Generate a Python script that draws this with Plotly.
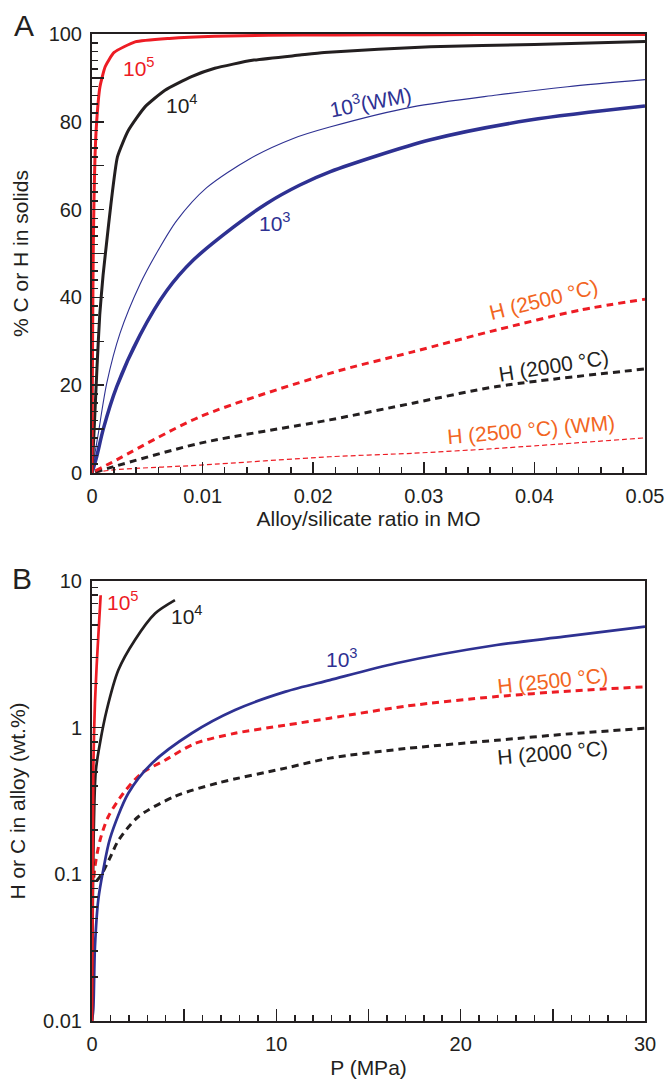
import plotly.graph_objects as go

# ---------------- Panel A data: % C or H in solids vs alloy/silicate ratio ----------------
a_c1e5_x = [0, 0.00003, 0.00008, 0.00012, 0.00018, 0.00027, 0.00042, 0.00072, 0.0012, 0.002,
            0.0039, 0.007, 0.0111, 0.016, 0.022, 0.03, 0.04, 0.05]
a_c1e5_y = [0, 20, 40, 52, 62, 72, 80, 88, 92.6, 95.8, 98.2, 99.0, 99.5, 99.7, 99.8, 99.85, 99.9, 99.9]

a_c1e4_x = [0, 0.0001, 0.00025, 0.00045, 0.0007, 0.001, 0.0013, 0.0017, 0.0023,
            0.00328, 0.00479, 0.0066, 0.009, 0.0111, 0.0145, 0.0188, 0.021, 0.0306, 0.04, 0.05]
a_c1e4_y = [0, 5, 13, 24, 36, 45, 52, 61, 72, 78, 83.4, 87.2, 90.3, 92.2, 94.0, 95.2,
            95.8, 97.1, 97.6, 98.3]

a_c1e3wm_x = [0, 0.0002, 0.00057, 0.00133, 0.00253, 0.00434, 0.006, 0.00766, 0.01037, 0.01428,
              0.0182, 0.0215, 0.029, 0.0366, 0.043, 0.05]
a_c1e3wm_y = [0, 3.5, 9.0, 20.4, 31.8, 43.0, 50.8, 57.5, 65.0, 71.6, 76.2, 78.8, 83.4, 86.1, 88.0, 89.6]

a_c1e3_x = [0, 0.00042, 0.00102, 0.00223, 0.00434, 0.00675, 0.00916, 0.01278, 0.0158, 0.0188,
            0.0215, 0.0306, 0.0396, 0.05]
a_c1e3_y = [0, 3.7, 10.0, 19.6, 31.4, 41.5, 48.5, 56.0, 61.4, 65.6, 68.6, 75.9, 80.4, 83.6]

a_h2500_x = [0.0003, 0.00163, 0.00976, 0.0215, 0.029, 0.0366, 0.0441, 0.05]
a_h2500_y = [0.5, 2.2, 12.8, 22.7, 27.6, 32.6, 37.1, 39.6]

a_h2000_x = [0.0003, 0.0019, 0.0098, 0.0215, 0.029, 0.0366, 0.05]
a_h2000_y = [0.2, 1.4, 6.8, 12.1, 15.9, 19.7, 23.7]

a_h2500wm_x = [0.0003, 0.0019, 0.0098, 0.0215, 0.029, 0.0366, 0.05]
a_h2500wm_y = [0.1, 0.7, 1.8, 3.7, 4.5, 5.6, 8.0]

# ---------------- Panel B data: H or C in alloy (wt.%) vs P (MPa) ----------------
b_c1e5_x = [0, 0.03, 0.05, 0.07, 0.11, 0.16, 0.25, 0.34, 0.47]
b_c1e5_y = [0.01, 0.05, 0.2, 0.51, 0.9, 1.47, 2.6, 4.17, 8.0]

b_c1e4_x = [0, 0.03, 0.07, 0.2, 0.43, 0.8, 1.43, 2.33, 3.42, 4.5]
b_c1e4_y = [0.01, 0.04, 0.13, 0.5, 0.78, 1.32, 2.47, 3.96, 6.0, 7.4]

b_c1e3_x = [0, 0.07, 0.16, 0.34, 0.61, 0.98, 1.97, 3.24, 5.41, 7.76, 10.5, 12.9, 16.5, 21.95, 25.6, 30]
b_c1e3_y = [0.01, 0.012, 0.032, 0.067, 0.107, 0.176, 0.357, 0.57, 0.916, 1.32, 1.76, 2.11, 2.75,
            3.66, 4.17, 4.88]

b_h2500_x = [0.1, 0.16, 0.43, 0.88, 1.7, 2.7, 3.96, 5.59, 7.76, 10.5, 12.9, 17, 21.95, 26, 30]
b_h2500_y = [0.095, 0.113, 0.17, 0.247, 0.357, 0.49, 0.6, 0.78, 0.916, 1.04, 1.16, 1.40, 1.63, 1.78, 1.9]

b_h2000_x = [0.25, 0.52, 0.98, 1.43, 2.51, 4.5, 6.85, 10.5, 12.9, 17, 21.95, 26, 30]
b_h2000_y = [0.09, 0.10, 0.13, 0.17, 0.247, 0.34, 0.42, 0.53, 0.62, 0.72, 0.82, 0.91, 0.99]

# tick labels
a_xticks = [0, 0.01, 0.02, 0.03, 0.04, 0.05]
a_xticktext = ["0", "0.01", "0.02", "0.03", "0.04", "0.05"]
a_yticks = [0, 20, 40, 60, 80, 100]
a_yticktext = ["0", "20", "40", "60", "80", "100"]
a_ymidticks = [10, 30, 50, 70, 90]
b_xticks = [0, 10, 20, 30]
b_xticktext = ["0", "10", "20", "30"]
b_xmidticks = [5, 15, 25]
b_yticks = [0.01, 0.1, 1, 10]
b_yticktext = ["0.01", "0.1", "1", "10"]

RED = "#ED1C24"
BLACK = "#231F20"
NAVY = "#2E3192"
ORANGE = "#F26522"
FONT = "Liberation Sans, Arial, sans-serif"

fig = go.Figure()

def add(x, y, color, width, dash="solid", xa="x", ya="y", smooth=0.8):
    fig.add_trace(go.Scatter(x=x, y=y, mode="lines", xaxis=xa, yaxis=ya,
                             line=dict(color=color, width=width, dash=dash,
                                       shape="spline", smoothing=smooth),
                             showlegend=False, hoverinfo="skip"))

# Panel A
add(a_h2500wm_x, a_h2500wm_y, RED, 1.2, "5px,3px")
add(a_h2000_x, a_h2000_y, BLACK, 3, "7px,5px")
add(a_h2500_x, a_h2500_y, RED, 3, "7px,5px")
add(a_c1e3wm_x, a_c1e3wm_y, NAVY, 1.1)
add(a_c1e3_x, a_c1e3_y, NAVY, 3.5)
add(a_c1e4_x, a_c1e4_y, BLACK, 3, smooth=0.5)
add(a_c1e5_x, a_c1e5_y, RED, 3, smooth=0.5)

# Panel B
add(b_h2000_x, b_h2000_y, BLACK, 3, "7px,5px", "x2", "y2")
add(b_h2500_x, b_h2500_y, RED, 3, "7px,5px", "x2", "y2")
add(b_c1e3_x, b_c1e3_y, NAVY, 2.7, "solid", "x2", "y2")
add(b_c1e4_x, b_c1e4_y, BLACK, 2.7, "solid", "x2", "y2")
add(b_c1e5_x, b_c1e5_y, RED, 2.7, "solid", "x2", "y2", smooth=0.5)

# empty traces so the overlay tick-only axes are drawn
fig.add_trace(go.Scatter(x=[None], y=[None], xaxis="x", yaxis="y3", showlegend=False, hoverinfo="skip"))
fig.add_trace(go.Scatter(x=[None], y=[None], xaxis="x3", yaxis="y2", showlegend=False, hoverinfo="skip"))

xdom = [92 / 669, 645 / 669]
ydomA = [1 - 473 / 1079, 1 - 34 / 1079]
ydomB = [1 - 1021 / 1079, 1 - 581 / 1079]

tickfont = dict(family=FONT, size=20, color=BLACK)
titlefont = dict(family=FONT, size=21, color=BLACK)

common = dict(showgrid=False, zeroline=False, showline=True, linewidth=2, linecolor=BLACK,
              mirror=True, ticks="inside", tickwidth=1.5, tickcolor=BLACK, tickfont=tickfont,
              tickmode="array", automargin=False)
overlay = dict(showgrid=False, zeroline=False, showline=False, showticklabels=False,
               ticks="inside", tickwidth=1.5, tickcolor=BLACK, ticklen=12,
               tickmode="array", automargin=False)

log_minor = [k * 10 ** e for e in (-2, -1, 0) for k in range(2, 10)]

fig.update_layout(
    width=669, height=1079,
    margin=dict(l=0, r=0, t=0, b=0),
    paper_bgcolor="white", plot_bgcolor="white",
    font=dict(family=FONT, color=BLACK),
    xaxis=dict(domain=xdom, anchor="y", range=[0, 0.05], tickvals=a_xticks, ticktext=a_xticktext,
               ticklen=11, minor=dict(dtick=0.002, ticks="inside", ticklen=6, tickwidth=1.5, tickcolor=BLACK),
               title=dict(text="Alloy/silicate ratio in MO", font=titlefont, standoff=1),
               ticklabelstandoff=4, **common),
    yaxis=dict(domain=ydomA, anchor="x", range=[0, 100], tickvals=a_yticks, ticktext=a_yticktext,
               ticklen=12, minor=dict(dtick=2, ticks="inside", ticklen=6, tickwidth=1.5, tickcolor=BLACK),
               title=dict(text="% C or H in solids", font=titlefont, standoff=14),
               ticklabelstandoff=4, **common),
    yaxis3=dict(overlaying="y", anchor="x", side="left", range=[0, 100], tickvals=a_ymidticks, **overlay),
    xaxis2=dict(domain=xdom, anchor="y2", range=[0, 30], tickvals=b_xticks, ticktext=b_xticktext,
                ticklen=12, minor=dict(dtick=1, ticks="inside", ticklen=6, tickwidth=1.5, tickcolor=BLACK),
                title=dict(text="P (MPa)", font=titlefont, standoff=6),
                ticklabelstandoff=4, **common),
    xaxis3=dict(overlaying="x2", anchor="y2", side="bottom", range=[0, 30], tickvals=b_xmidticks, **overlay),
    yaxis2=dict(domain=ydomB, anchor="x2", type="log", range=[-2, 1], tickvals=b_yticks,
                ticktext=b_yticktext, ticklen=12,
                minor=dict(tickmode="array", tickvals=log_minor, ticks="inside", ticklen=6,
                           tickwidth=1.5, tickcolor=BLACK),
                title=dict(text="H or C in alloy (wt.%)", font=titlefont, standoff=12),
                ticklabelstandoff=4, **common),
)

def label(text, x, y, color, xref="x", yref="y", angle=0, size=21):
    fig.add_annotation(text=text, x=x, y=y, xref=xref, yref=yref, showarrow=False,
                       textangle=angle, font=dict(family=FONT, size=size, color=color),
                       xanchor="center", yanchor="middle")

# Panel A labels
label("10<sup>5</sup>", 0.00425, 92.5, RED)
label("10<sup>4</sup>", 0.00814, 84, BLACK)
label("10<sup>3</sup>(WM)", 0.02514, 84.7, NAVY, angle=-11)
label("10<sup>3</sup>", 0.01655, 57.2, NAVY)
label("H (2500 °C)", 0.0408, 39.6, ORANGE, angle=-14)
label("H (2000 °C)", 0.04177, 24.6, BLACK, angle=-9)
label("H (2500 °C) (WM)", 0.0397, 9.8, ORANGE, angle=-5)

# Panel B labels (log axis: y given as log10)
label("10<sup>5</sup>", 1.68, 0.864, RED, "x2", "y2")
label("10<sup>4</sup>", 5.15, 0.768, BLACK, "x2", "y2")
label("10<sup>3</sup>", 13.56, 0.475, NAVY, "x2", "y2")
label("H (2500 °C)", 25.0, 0.325, ORANGE, "x2", "y2", angle=-6)
label("H (2000 °C)", 25.0, -0.166, BLACK, "x2", "y2", angle=-5)

# Panel letters
label("A", 24 / 669, 1 - 26 / 1079, BLACK, "paper", "paper", size=30)
label("B", 22 / 669, 1 - 578 / 1079, BLACK, "paper", "paper", size=30)

fig.write_html("out.html", config={"displayModeBar": False, "staticPlot": True},
               post_script="document.body.style.margin='0px';")
